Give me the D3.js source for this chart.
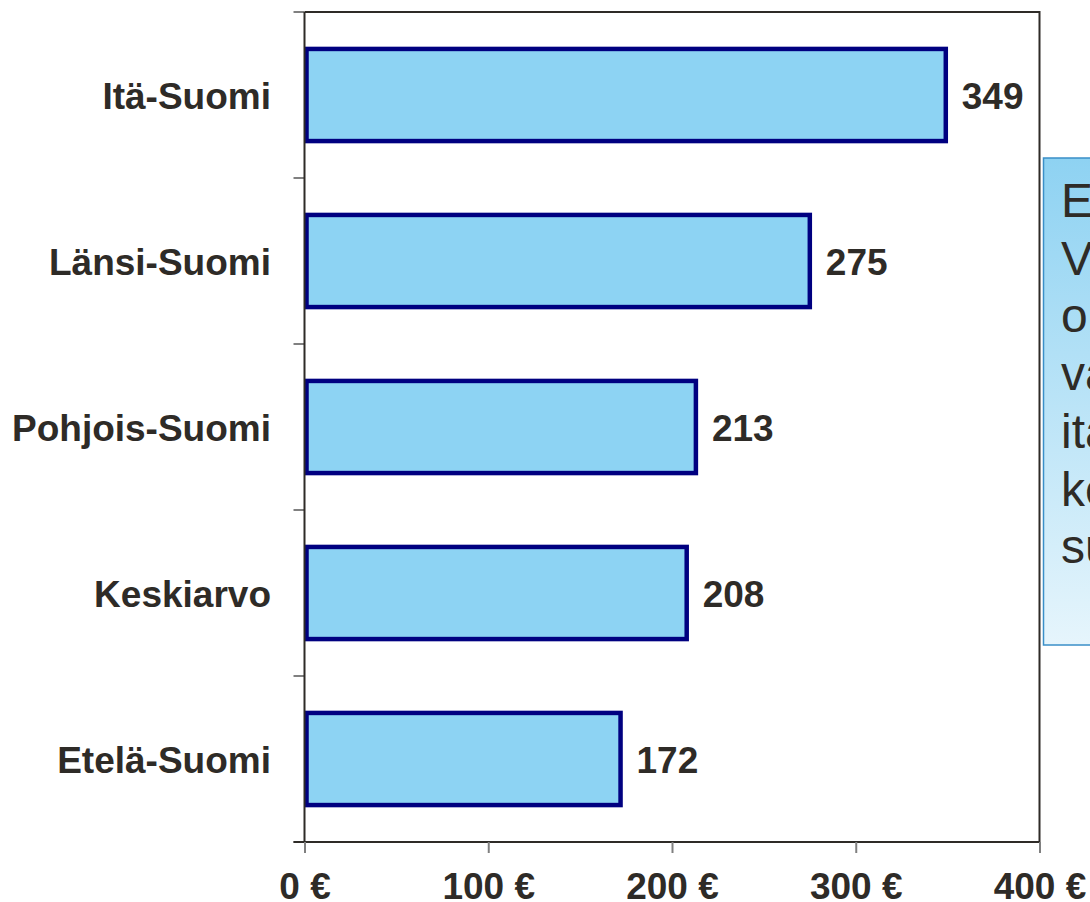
<!DOCTYPE html>
<html>
<head>
<meta charset="utf-8">
<script src="https://cdn.jsdelivr.net/npm/d3@7"></script>
<style>
  body { margin: 0; background: #fff; }
  text { font-family: "Liberation Sans", Arial, sans-serif; fill: #2e2b27; }
</style>
</head>
<body>
<div id="chart"></div>
<script>
const regions = ["Itä-Suomi", "Länsi-Suomi", "Pohjois-Suomi", "Keskiarvo", "Etelä-Suomi"];
const amounts = [349, 275, 213, 208, 172];
const xTicks = [0, 100, 200, 300, 400];
const noteLines = ["Ero", "Vaihtelu", "on", "varsin", "itä- ja", "keski-", "suuri"];

const w = 1090, h = 902;
const plotLeft = 304.5, plotRight = 1039.5, plotTop = 12, plotBottom = 842;

const svg = d3.select("#chart").append("svg")
  .attr("width", w)
  .attr("height", h);

const xScale = d3.scaleLinear().domain([0, 400]).range([plotLeft, plotRight]);
const yScale = d3.scaleBand().domain(regions).range([plotTop, plotBottom]).paddingInner(0.445).paddingOuter(0.2225);

// frame (top and right)
svg.append("path")
  .attr("d", `M${plotLeft},${plotTop}H${plotRight}V${plotBottom}`)
  .attr("fill", "none")
  .attr("stroke", "#2e2b27")
  .attr("stroke-width", 2);

// bars
svg.selectAll("rect.bar")
  .data(regions)
  .enter()
  .append("rect")
  .attr("class", "bar")
  .attr("x", xScale(0) + 2)
  .attr("y", d => yScale(d))
  .attr("width", (d, i) => xScale(amounts[i]) - xScale(0) - 2)
  .attr("height", yScale.bandwidth())
  .attr("fill", "#8dd3f3")
  .attr("stroke", "#000080")
  .attr("stroke-width", 4.5);

// value labels
svg.selectAll("text.val")
  .data(regions)
  .enter()
  .append("text")
  .attr("class", "val")
  .attr("x", (d, i) => xScale(amounts[i]) + 16)
  .attr("y", d => yScale(d) + yScale.bandwidth() / 2 + 13.5)
  .attr("font-size", 37)
  .attr("font-weight", "bold")
  .text((d, i) => amounts[i]);

// y axis
const yEdges = d3.range(regions.length + 1).map(i => plotTop + i * (plotBottom - plotTop) / regions.length);
svg.selectAll("line.ytick")
  .data(yEdges)
  .enter()
  .append("line")
  .attr("x1", plotLeft - 11)
  .attr("x2", plotLeft)
  .attr("y1", d => d)
  .attr("y2", d => d)
  .attr("stroke", "#808080")
  .attr("stroke-width", 2);

svg.append("line")
  .attr("x1", plotLeft).attr("x2", plotLeft)
  .attr("y1", plotTop).attr("y2", plotBottom)
  .attr("stroke", "#2e2b27")
  .attr("stroke-width", 2);

svg.selectAll("text.cat")
  .data(regions)
  .enter()
  .append("text")
  .attr("class", "cat")
  .attr("x", 271)
  .attr("y", d => yScale(d) + yScale.bandwidth() / 2 + 13.5)
  .attr("text-anchor", "end")
  .attr("font-size", 37)
  .attr("font-weight", "bold")
  .text(d => d);

// x axis
const xAxis = d3.axisBottom(xScale)
  .tickValues(xTicks)
  .tickSize(11)
  .tickPadding(20)
  .tickFormat(d => d + " €");

const gx = svg.append("g")
  .attr("transform", `translate(0,${plotBottom})`)
  .call(xAxis);
gx.select(".domain").attr("stroke", "#2e2b27").attr("stroke-width", 2)
  .attr("d", `M${plotLeft - 11},0H${plotRight}`);
gx.selectAll(".tick line").attr("stroke", "#808080").attr("stroke-width", 2);
gx.selectAll(".tick text")
  .attr("font-size", 37)
  .attr("font-weight", "bold")
  .attr("font-family", "Liberation Sans, Arial, sans-serif")
  .attr("fill", "#2e2b27");

// note box (runs off the right edge, as in the original)
const grad = svg.append("defs").append("linearGradient")
  .attr("id", "noteGrad")
  .attr("x1", 0).attr("y1", 0).attr("x2", 0).attr("y2", 1);
grad.append("stop").attr("offset", "0%").attr("stop-color", "#8ed2f2");
grad.append("stop").attr("offset", "100%").attr("stop-color", "#e6f5fc");

svg.append("rect")
  .attr("x", 1043.5)
  .attr("y", 158)
  .attr("width", 80)
  .attr("height", 487)
  .attr("fill", "url(#noteGrad)")
  .attr("stroke", "#3a8fc8")
  .attr("stroke-width", 1.5);

svg.append("g").selectAll("text")
  .data(noteLines)
  .enter()
  .append("text")
  .attr("x", 1061)
  .attr("y", (d, i) => 217 + i * 57.7)
  .attr("font-size", 48)
  .text(d => d);
</script>
</body>
</html>
